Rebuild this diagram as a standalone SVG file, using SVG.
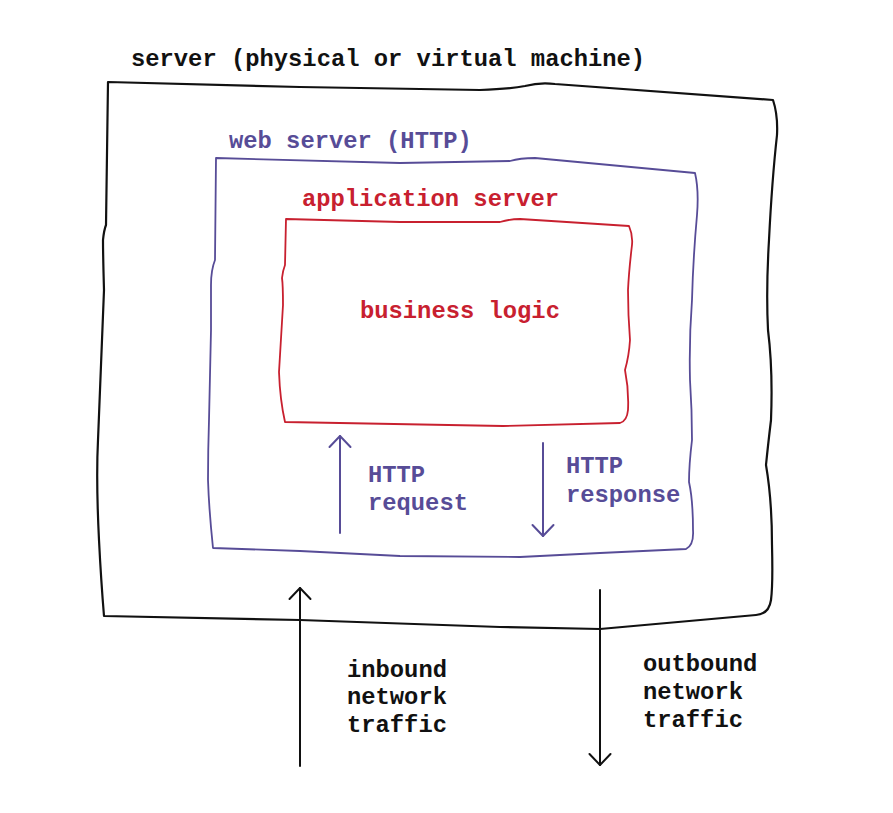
<svg xmlns="http://www.w3.org/2000/svg" width="893" height="813" viewBox="0 0 893 813">
  <style>
    .t { font-family: "Liberation Mono", "Courier New", monospace; font-weight: bold; font-size: 23.8px; }
    .blk { fill: #111; }
    .pur { fill: #574c97; }
    .red { fill: #c8202f; }
    .box { fill: none; stroke-linejoin: round; stroke-linecap: round; }
    .arrow { fill: none; stroke-linecap: round; }
  </style>
  <defs>
    <marker id="headBlack" markerUnits="userSpaceOnUse" markerWidth="30" markerHeight="30" refX="0" refY="0" viewBox="-15 -15 30 30" orient="auto" overflow="visible">
      <path d="M-11,-10.5 L0,0 L-11,10.5" fill="none" stroke="#111" stroke-width="2" stroke-linecap="round" stroke-linejoin="round"/>
    </marker>
    <marker id="headPurple" markerUnits="userSpaceOnUse" markerWidth="30" markerHeight="30" refX="0" refY="0" viewBox="-15 -15 30 30" orient="auto" overflow="visible">
      <path d="M-11,-10.5 L0,0 L-11,10.5" fill="none" stroke="#574c97" stroke-width="2" stroke-linecap="round" stroke-linejoin="round"/>
    </marker>
  </defs>
  <rect width="893" height="813" fill="#fff"/>

  <g id="server">
    <path class="box" stroke="#111" stroke-width="2.2" d="M108,82 L300,87 L480,90 Q510,89 525,86 Q540,82 555,84 L773,100 Q778,115 777,135 Q772,180 769,240 Q766,290 768,330 Q773,370 771,420 Q768,445 766,465 Q772,500 772,545 Q773,585 771,600 Q769,614 756,615 L600,629 L500,627 L300,620 L104,616 Q101,580 99,540 Q96,480 98,440 Q101,370 104,290 Q103,255 103,240 Q104,230 106,225 Z"/>
    <text class="t blk" x="131" y="66">server (physical or virtual machine)</text>
  </g>

  <g id="web-server">
    <path class="box" stroke="#574c97" stroke-width="1.8" d="M216,158 L400,163 L510,161 Q520,158 535,158 L695,173 Q699,190 697,215 Q693,260 692,300 Q689,340 690,380 Q692,410 692,440 Q689,465 689,482 Q693,500 693,530 Q694,545 686,549 L600,553 L520,557 L400,556 L300,551 L213,548 Q209,510 208,480 Q208,450 209,420 Q210,380 211,330 Q211,300 211,285 Q211,270 215,260 Z"/>
    <text class="t pur" x="229" y="148">web server (HTTP)</text>
  </g>

  <g id="application-server">
    <path class="box" stroke="#c8202f" stroke-width="1.8" d="M286,219 L400,222 L500,222 Q510,219 520,219 L629,226 Q633,235 632,245 Q629,270 628,290 Q628,315 630,340 Q629,356 625,370 Q629,390 628,410 Q627,421 620,423 L503,426 L285,422 Q280,400 279,372 Q281,340 283,305 Q283,285 282,278 Q283,270 285,265 Z"/>
    <text class="t red" x="302" y="206">application server</text>
    <text class="t red" x="360" y="318">business logic</text>
  </g>

  <g id="connectors">
    <line class="arrow" x1="340" y1="533" x2="340" y2="436" stroke="#574c97" stroke-width="2" marker-end="url(#headPurple)"/>
    <line class="arrow" x1="543" y1="443" x2="543" y2="536" stroke="#574c97" stroke-width="2" marker-end="url(#headPurple)"/>
    <line class="arrow" x1="300" y1="766" x2="300" y2="588" stroke="#111" stroke-width="2" marker-end="url(#headBlack)"/>
    <line class="arrow" x1="600" y1="590" x2="600" y2="765" stroke="#111" stroke-width="2" marker-end="url(#headBlack)"/>
  </g>

  <g id="labels">
    <text class="t pur" x="368" y="482">HTTP</text>
    <text class="t pur" x="368" y="510">request</text>
    <text class="t pur" x="566" y="473">HTTP</text>
    <text class="t pur" x="566" y="502">response</text>
    <text class="t blk" x="347" y="677">inbound</text>
    <text class="t blk" x="347" y="704">network</text>
    <text class="t blk" x="347" y="732">traffic</text>
    <text class="t blk" x="643" y="671">outbound</text>
    <text class="t blk" x="643" y="699">network</text>
    <text class="t blk" x="643" y="727">traffic</text>
  </g>
</svg>
